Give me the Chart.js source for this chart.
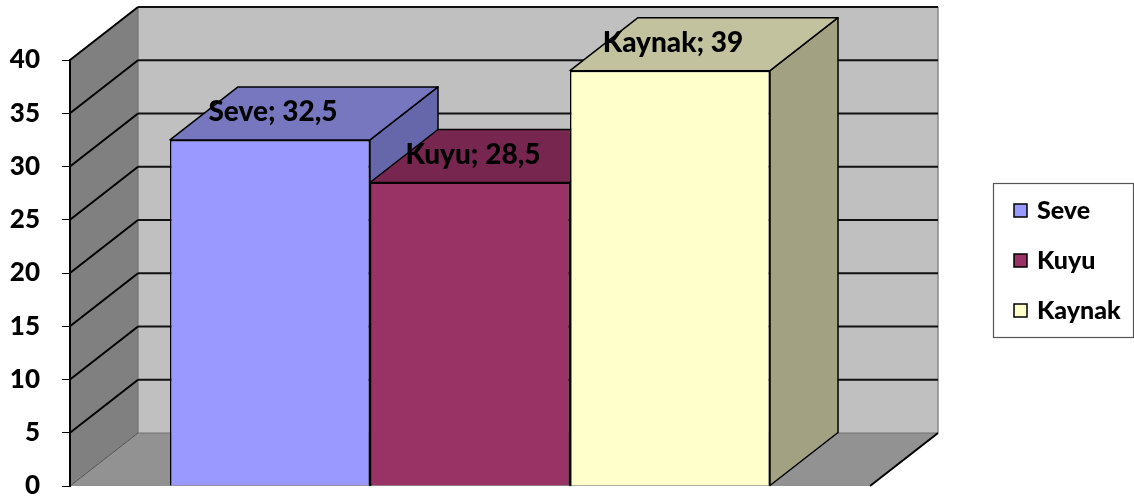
<!DOCTYPE html>
<html>
<head>
<meta charset="utf-8">
<script src="https://cdn.jsdelivr.net/npm/chart.js@4"></script>
<style>
  html, body { margin: 0; padding: 0; background: #fff; }
  #wrap { width: 1134px; height: 499px; }
</style>
</head>
<body>
<div id="wrap"><canvas id="grafik"></canvas></div>
<script>
const seriler = ['Seve', 'Kuyu', 'Kaynak'];
const degerler = [32.5, 28.5, 39];
const yMin = 0;
const yMax = 40;
const yAdim = 5;

const onRenk = ['#9999FF', '#993366', '#FFFFCC'];
const ustRenk = ['#7777C0', '#77264F', '#C2C29E'];
const yanRenk = ['#6666AA', '#661F43', '#A2A283'];

// 3B derinlik kaydirmasi (piksel)
const DX = 68, DY = -53;

function poly(ctx, pts, fill, stroke, lw) {
    ctx.beginPath();
    ctx.moveTo(pts[0][0], pts[0][1]);
    for (let i = 1; i < pts.length; i++) ctx.lineTo(pts[i][0], pts[i][1]);
    ctx.closePath();
    if (fill) { ctx.fillStyle = fill; ctx.fill(); }
    if (stroke) { ctx.strokeStyle = stroke; ctx.lineWidth = lw || 1; ctx.stroke(); }
}

function line(ctx, x1, y1, x2, y2, color, lw) {
    ctx.beginPath();
    ctx.moveTo(x1, y1);
    ctx.lineTo(x2, y2);
    ctx.strokeStyle = color;
    ctx.lineWidth = lw;
    ctx.stroke();
}

const duvarlar = {
    id: 'duvarlar',
    beforeDraw(chart) {
        const ctx = chart.ctx;
        const a = chart.chartArea;
        const y = chart.scales.y;
        const L = a.left, R = a.right, T = a.top, B = a.bottom;
        ctx.save();
        // arka duvar
        poly(ctx, [[L + DX, T + DY], [R + DX, T + DY], [R + DX, B + DY], [L + DX, B + DY]], '#C0C0C0');
        // yan duvar
        poly(ctx, [[L, B], [L, T], [L + DX, T + DY], [L + DX, B + DY]], '#808080');
        // taban
        poly(ctx, [[L, B], [R, B], [R + DX, B + DY], [L + DX, B + DY]], '#929292');
        line(ctx, L + DX, T + DY, L + DX, B + DY, '#6a6a6a', 1);
        line(ctx, R + DX, T + DY, R + DX, B + DY, '#8a8a8a', 1.5);
        line(ctx, L + DX, B + DY, R + DX, B + DY, '#707070', 1);
        line(ctx, L, B, L + DX, B + DY, '#505050', 1);
        // izgara cizgileri
        for (let v = yMin + yAdim; v <= yMax; v += yAdim) {
            const py = y.getPixelForValue(v);
            line(ctx, L, py, L + DX, py + DY, '#000', 2);
            line(ctx, L + DX, py + DY, R + DX, py + DY, '#111', 2);
        }
        line(ctx, R, B, R + DX, B + DY, '#000', 2);
        ctx.restore();
    },
    beforeDatasetsDraw(chart) {
        const ctx = chart.ctx;
        ctx.save();
        ctx.lineJoin = 'round';
        chart.data.datasets.forEach((ds, i) => {
            const bar = chart.getDatasetMeta(i).data[0];
            const x0 = bar.x - bar.width / 2, x1 = bar.x + bar.width / 2;
            const top = bar.y, base = bar.base;
            // yan yuz
            poly(ctx, [[x1, top], [x1 + DX, top + DY], [x1 + DX, base + DY], [x1, base]], yanRenk[i], '#000', 1.5);
            // ust yuz
            poly(ctx, [[x0, top], [x1, top], [x1 + DX, top + DY], [x0 + DX, top + DY]], ustRenk[i], '#000', 1.5);
        });
        ctx.restore();
    },
    afterDraw(chart) {
        const ctx = chart.ctx;
        ctx.save();
        // veri etiketleri
        ctx.font = '900 28px Lato';
        ctx.fillStyle = '#000';
        ctx.textAlign = 'center';
        ctx.textBaseline = 'middle';
        chart.data.datasets.forEach((ds, i) => {
            const bar = chart.getDatasetMeta(i).data[0];
            const txt = ds.label + '; ' + String(ds.data[0]).replace('.', ',');
            ctx.fillText(txt, bar.x + 3, bar.y + DY / 2 - 1);
        });
        // gosterge
        const lx = 993, ly = 183, lw = 140, lh = 154;
        ctx.strokeStyle = '#555';
        ctx.lineWidth = 1.2;
        ctx.strokeRect(lx + 0.5, ly + 0.5, lw, lh);
        ctx.font = '900 25px Lato';
        ctx.textAlign = 'left';
        chart.data.datasets.forEach((ds, i) => {
            const cy = ly + 28 + i * 50;
            ctx.fillStyle = ds.backgroundColor;
            ctx.fillRect(lx + 21, cy - 7, 13, 13);
            ctx.strokeStyle = '#000';
            ctx.lineWidth = 1.5;
            ctx.strokeRect(lx + 21, cy - 7, 13, 13);
            ctx.fillStyle = '#000';
            ctx.fillText(ds.label, lx + 44, cy);
        });
        ctx.restore();
    }
};

new Chart(document.getElementById('grafik'), {
    type: 'bar',
    data: {
        labels: [''],
        datasets: seriler.map((ad, i) => ({
            label: ad,
            data: [degerler[i]],
            backgroundColor: onRenk[i],
            borderColor: '#000',
            borderWidth: 1.5,
            categoryPercentage: 0.75,
            barPercentage: 1
        }))
    },
    options: {
        responsive: true,
        maintainAspectRatio: false,
        animation: false,
        layout: { padding: { left: 0, right: 264, top: 60, bottom: 13 } },
        plugins: {
            legend: { display: false },
            tooltip: { enabled: false }
        },
        scales: {
            x: { display: false },
            y: {
                min: yMin,
                max: yMax,
                afterFit(scale) {
                    scale.width = 70;
                    scale.paddingTop = 0;
                    scale.paddingBottom = 0;
                },
                ticks: {
                    stepSize: yAdim,
                    padding: 22,
                    color: '#000',
                    font: { family: 'Lato', weight: '900', size: 26 }
                },
                grid: { drawOnChartArea: false, drawTicks: true, tickLength: 8, color: '#000', lineWidth: 1 },
                border: { display: true, color: '#000', width: 2 }
            }
        }
    },
    plugins: [duvarlar]
});
</script>
</body>
</html>
